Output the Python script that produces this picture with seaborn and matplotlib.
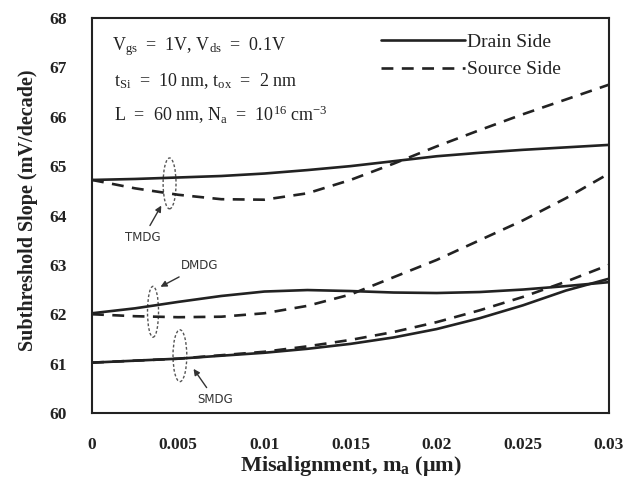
import numpy as np
import pandas as pd
import matplotlib
matplotlib.use("Agg")
import matplotlib.pyplot as plt
from matplotlib.patches import Ellipse
from matplotlib.lines import Line2D
import seaborn as sns

sns.set_theme(style="white")
plt.rcParams['font.family'] = ['Liberation Serif', 'DejaVu Serif']
plt.rcParams['mathtext.fontset'] = 'custom'
plt.rcParams['mathtext.rm'] = 'Liberation Serif'
plt.rcParams['mathtext.it'] = 'Liberation Serif:italic'
plt.rcParams['mathtext.bf'] = 'Liberation Serif:bold'

# Data
x_pts = [0, 0.0025, 0.005, 0.0075, 0.01, 0.0125, 0.015, 0.0175, 0.02, 0.0225, 0.025, 0.0275, 0.03]
tmdg_drain  = [64.72, 64.74, 64.77, 64.80, 64.85, 64.92, 65.00, 65.10, 65.20, 65.27, 65.33, 65.38, 65.43]
tmdg_source = [64.72, 64.55, 64.42, 64.33, 64.32, 64.45, 64.72, 65.05, 65.40, 65.73, 66.05, 66.35, 66.65]
dmdg_drain  = [62.02, 62.12, 62.25, 62.37, 62.46, 62.49, 62.47, 62.44, 62.43, 62.45, 62.50, 62.57, 62.65]
dmdg_source = [62.00, 61.96, 61.94, 61.95, 62.02, 62.17, 62.40, 62.75, 63.10, 63.50, 63.90, 64.35, 64.85]
smdg_drain  = [61.02, 61.06, 61.10, 61.16, 61.22, 61.30, 61.40, 61.53, 61.70, 61.92, 62.18, 62.48, 62.72]
smdg_source = [61.02, 61.06, 61.10, 61.17, 61.24, 61.35, 61.48, 61.64, 61.84, 62.08, 62.35, 62.66, 63.00]

x_ticks = [0, 0.005, 0.01, 0.015, 0.02, 0.025, 0.03]
x_tick_labels = ['0', '0.005', '0.01', '0.015', '0.02', '0.025', '0.03']
y_ticks = [60, 61, 62, 63, 64, 65, 66, 67, 68]

series = {
    ('TMDG', 'Drain Side'): tmdg_drain,
    ('TMDG', 'Source Side'): tmdg_source,
    ('DMDG', 'Drain Side'): dmdg_drain,
    ('DMDG', 'Source Side'): dmdg_source,
    ('SMDG', 'Drain Side'): smdg_drain,
    ('SMDG', 'Source Side'): smdg_source,
}
rows = []
for (dev, side), vals in series.items():
    for xv, yv in zip(x_pts, vals):
        rows.append(dict(device=dev, side=side, x=xv, y=yv))
df = pd.DataFrame(rows)

INK = '#222222'
DASH = (0, (4.5, 3.2))

fig = plt.figure(figsize=(6.23, 4.79), dpi=100)
ax = fig.add_axes([0.1477, 0.1378, 0.8298, 0.8246])

for (dev, side), sub in df.groupby(['device', 'side']):
    sns.lineplot(data=sub, x='x', y='y', ax=ax, color=INK,
                 linewidth=1.9, linestyle='-' if side == 'Drain Side' else DASH,
                 legend=False)

ax.set_xlim(0, 0.03)
ax.set_ylim(60, 68)
ax.set_xticks(x_ticks)
ax.set_xticklabels(x_tick_labels)
ax.set_yticks(y_ticks)
ax.tick_params(axis='both', direction='in', length=5, width=1.2, color=INK,
               labelsize=12.5)
ax.tick_params(axis='x', pad=17)
ax.tick_params(axis='y', pad=18)
for lbl in ax.get_xticklabels() + ax.get_yticklabels():
    lbl.set_fontweight('bold')
    lbl.set_color(INK)
for sp in ax.spines.values():
    sp.set_linewidth(1.5)
    sp.set_color(INK)

ax.set_xlabel(r'Misalignment, m$_{\mathbf{a}}$ ($\mathbf{\mu}$m)', fontsize=16,
              fontweight='bold', color=INK, va='center')
ax.xaxis.set_label_coords(0.5, -0.135)
ax.set_ylabel('Subthreshold Slope (mV/decade)', fontsize=14.5, fontweight='bold',
              color=INK, va='center')
ax.yaxis.set_label_coords(-0.124, 0.514)

# Condition text
tkw = dict(transform=ax.transAxes, fontsize=13, color=INK, ha='left', va='center')
ax.text(0.038, 0.927, r'V$_{\rm gs}$  =  1V, V$_{\rm ds}$  =  0.1V', **tkw)
ax.text(0.042, 0.840, r't$_{\rm Si}$  =  10 nm, t$_{\rm ox}$  =  2 nm', **tkw)
ax.text(0.042, 0.755, r'L  =  60 nm, N$_{\rm a}$  =  10$^{16}$ cm$^{-3}$', **tkw)

# Legend
handles = [Line2D([], [], color=INK, lw=1.9, ls='-'),
           Line2D([], [], color=INK, lw=1.9, ls=DASH)]
leg = ax.legend(handles, ['Drain Side', 'Source Side'], loc='upper right',
                bbox_to_anchor=(0.94, 1.005), frameon=False, fontsize=14,
                handlelength=4.3, handletextpad=0.1, labelspacing=0.5)
for t in leg.get_texts():
    t.set_color(INK)

# Ellipses and labels
ell_kw = dict(fill=False, edgecolor='#555555', linestyle=(0, (2, 1.5)), linewidth=1.0)
ax.add_patch(Ellipse((0.0045, 64.65), 0.00075, 1.03, **ell_kw))
ax.add_patch(Ellipse((0.00354, 62.05), 0.00064, 1.03, **ell_kw))
ax.add_patch(Ellipse((0.0051, 61.16), 0.0008, 1.05, **ell_kw))

akw = dict(fontsize=8.5, color='#333333', fontfamily='DejaVu Sans', ha='center', va='center',
           arrowprops=dict(arrowstyle='-|>', color='#333333', lw=1.0, mutation_scale=9))
ax.annotate('TMDG', xy=(0.0041, 64.25), xytext=(0.00296, 63.55), **akw)
ax.annotate('DMDG', xy=(0.00383, 62.53), xytext=(0.00627, 62.98), **akw)
ax.annotate('SMDG', xy=(0.0058, 60.94), xytext=(0.00714, 60.27), **akw)

fig.savefig('out.png', dpi=100)
